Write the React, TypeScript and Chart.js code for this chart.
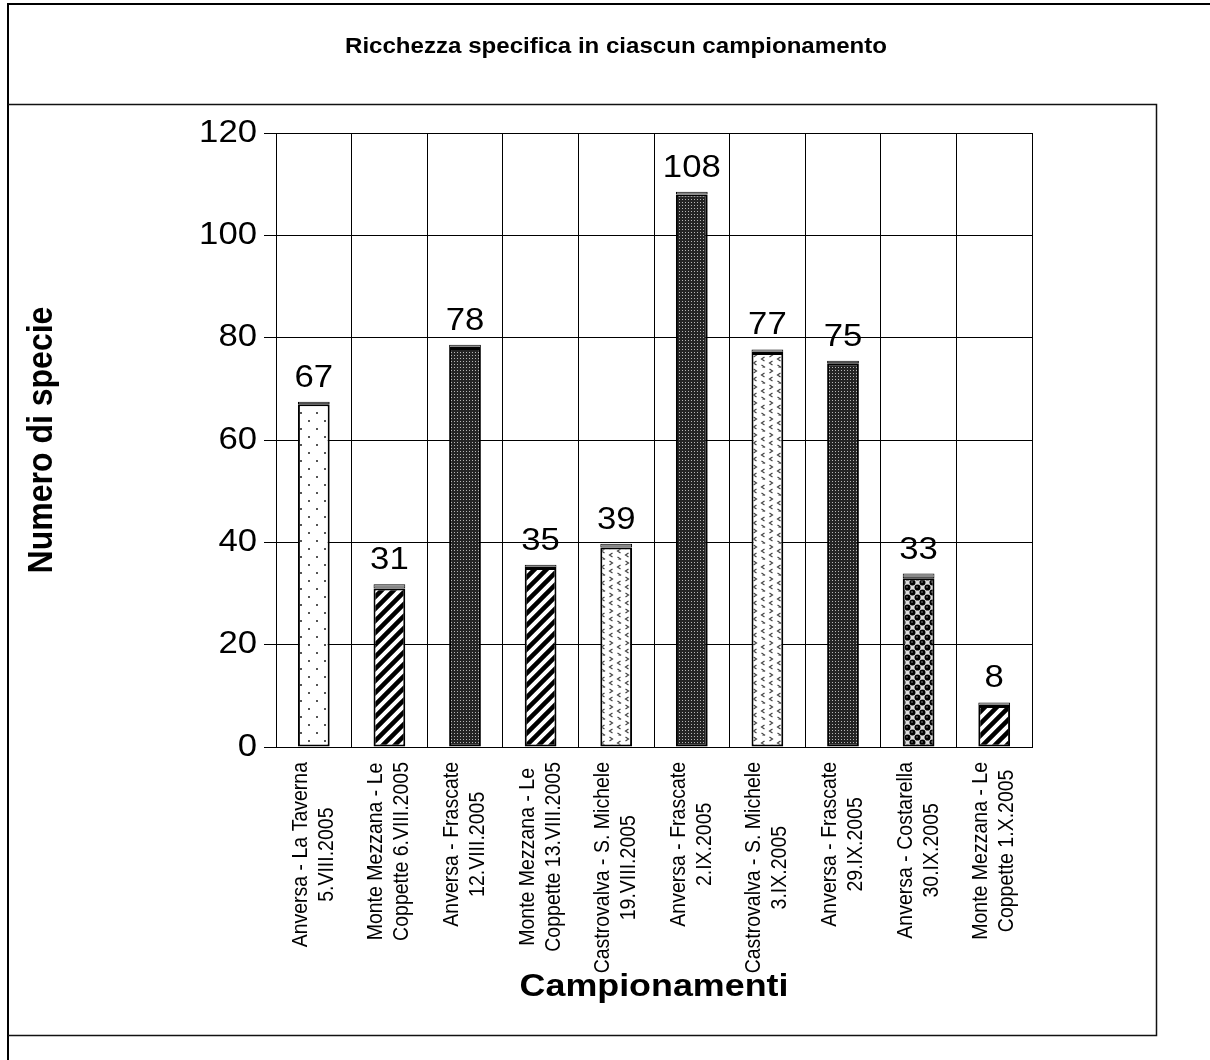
import React, { useEffect, useRef } from "react";
import { Chart, registerables } from "chart.js";

Chart.register(...registerables);

// ---- data ----
const TITLE = "Ricchezza specifica in ciascun campionamento";
const Y_TITLE = "Numero di specie";
const X_TITLE = "Campionamenti";
const CATEGORY_LINE1 = [
  "Anversa - La Taverna",
  "Monte Mezzana - Le",
  "Anversa - Frascate",
  "Monte Mezzana - Le",
  "Castrovalva - S. Michele",
  "Anversa - Frascate",
  "Castrovalva - S. Michele",
  "Anversa - Frascate",
  "Anversa - Costarella",
  "Monte Mezzana - Le",
];
const CATEGORY_LINE2 = [
  "5.VIII.2005",
  "Coppette 6.VIII.2005",
  "12.VIII.2005",
  "Coppette 13.VIII.2005",
  "19.VIII.2005",
  "2.IX.2005",
  "3.IX.2005",
  "29.IX.2005",
  "30.IX.2005",
  "Coppette 1.X.2005",
];
const SPECIES = [67, 31, 78, 35, 39, 108, 77, 75, 33, 8];
const CAP = [0.5, 0.8, 0.6, 0.6, 0.7, 0.5, 0.7, 0.5, 0.9, 0.7];
const PATTERN_KEY = ["dots", "stripes", "dark", "stripes", "confetti", "dark", "confetti", "dark", "spheres", "stripes"];
const Y_MIN = 0;
const Y_MAX = 120;
const Y_STEP = 20;

const FONT = '"Liberation Sans", Arial, sans-serif';
const SX = 1.12; // horizontal stretch of the original picture's text

function makePattern(key: string): CanvasPattern | string {
  const c = document.createElement("canvas");
  let g: CanvasRenderingContext2D;
  if (key === "dots") {
    c.width = 16; c.height = 16;
    g = c.getContext("2d")!;
    g.fillStyle = "#fff"; g.fillRect(0, 0, 16, 16);
    g.fillStyle = "#555";
    g.fillRect(4, 4, 2, 2);
    g.fillRect(12, 12, 2, 2);
  } else if (key === "stripes") {
    c.width = 12; c.height = 12;
    g = c.getContext("2d")!;
    g.fillStyle = "#fff"; g.fillRect(0, 0, 12, 12);
    g.strokeStyle = "#000"; g.lineWidth = 4.5;
    g.beginPath();
    for (const k of [-12, 0, 12]) {
      g.moveTo(k - 3, 15);
      g.lineTo(k + 15, -3);
    }
    g.stroke();
  } else if (key === "dark") {
    c.width = 3; c.height = 3;
    g = c.getContext("2d")!;
    g.fillStyle = "#242424"; g.fillRect(0, 0, 3, 3);
    g.fillStyle = "#b5b5b5"; g.fillRect(1, 1, 1, 1);
  } else if (key === "confetti") {
    c.width = 16; c.height = 16;
    g = c.getContext("2d")!;
    g.fillStyle = "#fff"; g.fillRect(0, 0, 16, 16);
    g.strokeStyle = "#444"; g.lineWidth = 1.2;
    const chev = (x: number, y: number, right: boolean) => {
      const d = right ? 1 : -1;
      g.beginPath();
      g.moveTo(x - 1.5 * d, y - 2);
      g.lineTo(x + 1.5 * d, y);
      g.lineTo(x - 1.5 * d, y + 2);
      g.stroke();
    };
    chev(3, 3, true);
    chev(11, 7, false);
    chev(3, 11, false);
    chev(11, 15, true);
  } else {
    c.width = 10; c.height = 10;
    g = c.getContext("2d")!;
    g.fillStyle = "#dcdcdc"; g.fillRect(0, 0, 10, 10);
    g.fillStyle = "#000";
    for (const [x, y] of [[2.5, 2.5], [7.5, 7.5], [7.5, -2.5], [-2.5, 7.5], [12.5, 7.5], [7.5, 12.5], [-2.5, -2.5], [12.5, 12.5], [12.5, 2.5], [2.5, 12.5]]) {
      g.beginPath(); g.arc(x, y, 3, 0, Math.PI * 2); g.fill();
    }
    g.fillStyle = "#fff";
    g.fillRect(1.5, 1.5, 1, 1);
    g.fillRect(6.5, 6.5, 1, 1);
  }
  const p = document.createElement("canvas").getContext("2d")!.createPattern(c, "repeat");
  return p || "#888";
}

function drawText(
  ctx: CanvasRenderingContext2D,
  text: string,
  x: number,
  y: number,
  font: string,
  align: CanvasTextAlign,
  baseline: CanvasTextBaseline,
  rotate = false
) {
  ctx.save();
  ctx.translate(x, y);
  ctx.scale(SX, 1);
  if (rotate) ctx.rotate(-Math.PI / 2);
  ctx.font = font;
  ctx.textAlign = align;
  ctx.textBaseline = baseline;
  ctx.fillStyle = "#000";
  ctx.fillText(text, 0, 0);
  ctx.restore();
}

const decorPlugin = {
  id: "decor",
  beforeDraw(chart: any) {
    const ctx = chart.ctx as CanvasRenderingContext2D;
    ctx.save();
    ctx.fillStyle = "#fff";
    ctx.fillRect(0, 0, chart.width, chart.height);
    ctx.restore();
  },
  afterDraw(chart: any) {
    const ctx = chart.ctx as CanvasRenderingContext2D;
    const area = chart.chartArea;
    const xs = chart.scales.x;
    const ys = chart.scales.y;

    // frame
    ctx.save();
    ctx.strokeStyle = "#000";
    ctx.lineWidth = 2;
    ctx.beginPath();
    ctx.moveTo(8, 4);
    ctx.lineTo(chart.width, 4);
    ctx.moveTo(8, 3);
    ctx.lineTo(8, chart.height);
    ctx.stroke();
    ctx.lineWidth = 1.5;
    ctx.strokeStyle = "#111";
    ctx.beginPath();
    ctx.moveTo(8, 104.5);
    ctx.lineTo(1156.5, 104.5);
    ctx.lineTo(1156.5, 1035.5);
    ctx.lineTo(8, 1035.5);
    ctx.stroke();
    ctx.restore();

    // title
    drawText(ctx, TITLE, 616, 53, `bold 21.5px ${FONT}`, "center", "alphabetic");

    // y tick labels
    for (let v = Y_MIN; v <= Y_MAX; v += Y_STEP) {
      drawText(ctx, String(v), area.left - 19, ys.getPixelForValue(v), `31px ${FONT}`, "right", "middle");
    }

    // x category labels (two lines, centred on each other)
    const lblFont = `19.5px ${FONT}`;
    ctx.save();
    ctx.font = lblFont;
    for (let i = 0; i < CATEGORY_LINE1.length; i++) {
      const cx = xs.getPixelForValue(i);
      const w1 = ctx.measureText(CATEGORY_LINE1[i]).width;
      const w2 = ctx.measureText(CATEGORY_LINE2[i]).width;
      const L = Math.max(w1, w2);
      const cy = area.bottom + 15 + L / 2;
      drawText(ctx, CATEGORY_LINE1[i], cx - 13, cy, lblFont, "center", "middle", true);
      drawText(ctx, CATEGORY_LINE2[i], cx + 13, cy, lblFont, "center", "middle", true);
    }
    ctx.restore();

    // data labels
    const capMeta = chart.getDatasetMeta(1);
    capMeta.data.forEach((el: any, i: number) => {
      drawText(ctx, String(SPECIES[i]), el.x, el.y - 15, `31px ${FONT}`, "center", "alphabetic");
    });

    // axis titles
    drawText(ctx, Y_TITLE, 42, (area.top + area.bottom) / 2, `bold 32px ${FONT}`, "center", "middle", true);
    drawText(ctx, X_TITLE, (area.left + area.right) / 2, 987, `bold 32px ${FONT}`, "center", "middle");
  },
};

export default function App() {
  const ref = useRef<HTMLCanvasElement | null>(null);

  useEffect(() => {
    if (!ref.current) return;
    const patterns = PATTERN_KEY.map((k) => makePattern(k));
    const chart = new Chart(ref.current, {
      type: "bar",
      data: {
        labels: CATEGORY_LINE1.map((l, i) => `${l} ${CATEGORY_LINE2[i]}`),
        datasets: [
          {
            label: "Specie",
            data: SPECIES,
            backgroundColor: patterns as any,
            borderColor: "#000",
            borderWidth: 2,
            borderSkipped: false,
            barPercentage: 0.42,
            categoryPercentage: 1,
          },
          {
            label: "cap",
            data: CAP,
            backgroundColor: "#8a8a8a",
            borderColor: "#000",
            borderWidth: 1,
            borderSkipped: false,
            barPercentage: 0.42,
            categoryPercentage: 1,
          },
        ],
      },
      options: {
        responsive: false,
        animation: false,
        devicePixelRatio: 1,
        layout: { padding: { left: 0, right: 178, top: 133, bottom: 313 } },
        plugins: {
          legend: { display: false },
          tooltip: { enabled: false },
          title: { display: false },
        },
        scales: {
          x: {
            stacked: true,
            offset: true,
            grid: { offset: true, color: "#000", lineWidth: 1, drawTicks: false },
            border: { color: "#000", width: 1 },
            ticks: { display: false },
            afterFit: (s: any) => {
              s.height = 0;
            },
          },
          y: {
            stacked: true,
            min: Y_MIN,
            max: Y_MAX,
            ticks: { display: false, stepSize: Y_STEP },
            grid: { color: "#000", lineWidth: 1, drawTicks: true, tickLength: 12 },
            border: { color: "#000", width: 1 },
            afterFit: (s: any) => {
              s.width = 276;
            },
          },
        },
      },
      plugins: [decorPlugin],
    });
    return () => chart.destroy();
  }, []);

  return (
    <div style={{ position: "fixed", left: 0, top: 0, width: 1210, height: 1060, background: "#fff" }}>
      <canvas ref={ref} width={1210} height={1060} style={{ display: "block", width: 1210, height: 1060 }} />
    </div>
  );
}
